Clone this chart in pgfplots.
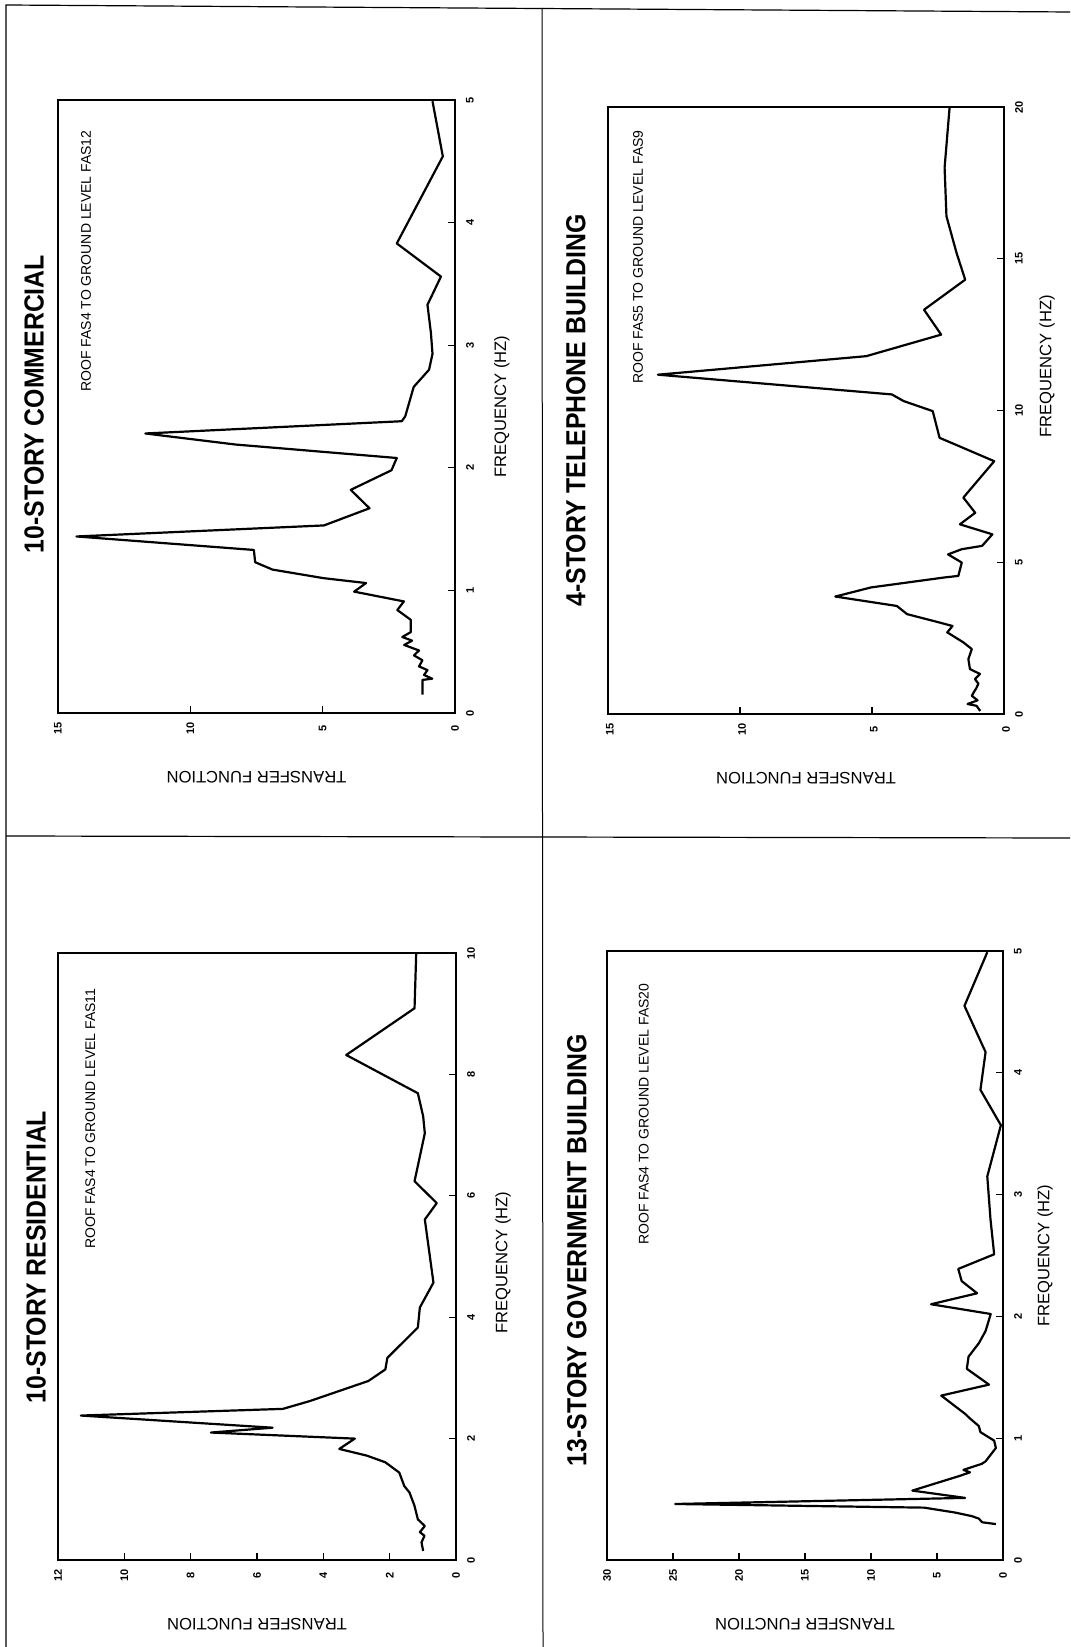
\documentclass[border=0pt]{standalone}
\usepackage{fontspec}
\setmainfont{Liberation Sans}
\newfontfamily\titlefam[FakeStretch=0.9]{Liberation Sans}
\usepackage{pgfplots}
\pgfplotsset{compat=1.18}
\usepackage{pgfplotstable}

\newcommand\tickfont{\fontsize{5.5}{6}\selectfont\bfseries}
\newcommand\labfont{\fontsize{8.3}{9}\selectfont}
\newcommand\titlefont{\titlefam\fontsize{13.8}{15}\selectfont\bfseries}
\newcommand\subfont{\fontsize{7}{8}\selectfont}

% frequency (Hz) vs transfer function
\pgfplotstableread{
f tf
0.15 1.23
0.27 1.23
0.28 0.86
0.31 1.17
0.35 1.04
0.38 1.36
0.43 1.23
0.47 1.55
0.51 1.36
0.555 1.92
0.59 1.62
0.62 1.99
0.66 1.67
0.76 1.67
0.84 2.18
0.91 1.93
0.99 3.81
1.06 3.36
1.10 4.97
1.17 6.90
1.23 7.55
1.33 7.60
1.44 14.30
1.53 4.95
1.67 3.23
1.82 3.94
1.98 2.40
2.08 2.20
2.19 8.30
2.28 11.70
2.38 2.01
2.42 1.88
2.66 1.56
2.80 0.98
2.93 0.85
3.10 0.91
3.33 1.04
3.56 0.53
3.83 2.20
4.54 0.46
4.99 0.85
}\commercial

\pgfplotstableread{
f tf
0.10 0.90
0.27 1.04
0.33 1.38
0.45 1.00
0.60 1.22
0.71 1.15
0.85 1.05
1.00 0.97
1.15 1.10
1.32 0.91
1.48 1.29
1.81 1.35
2.14 1.22
2.36 1.54
2.69 2.15
2.90 1.95
3.05 2.60
3.29 3.67
3.56 4.06
3.87 6.39
4.17 5.04
4.50 2.25
4.55 1.73
4.99 1.60
5.26 2.12
5.43 1.60
5.54 0.83
5.92 0.44
6.25 1.67
6.63 1.09
7.13 1.54
8.33 0.37
9.10 2.44
9.98 2.70
10.31 3.80
10.53 4.25
11.18 13.11
11.79 5.22
12.50 2.38
13.32 3.03
14.31 1.47
15.20 1.80
16.40 2.18
18.00 2.25
20.00 2.06
}\telephone

\pgfplotstableread{
f tf
0.15 0.99
0.29 1.04
0.40 0.95
0.46 1.09
0.56 0.94
0.67 1.15
0.89 1.25
1.11 1.40
1.22 1.56
1.44 1.71
1.61 2.13
1.72 2.69
1.83 3.52
2.00 3.05
2.10 7.39
2.18 5.53
2.38 11.31
2.49 5.22
2.62 4.40
2.95 2.64
3.14 2.13
3.33 2.07
3.83 1.15
4.16 1.09
4.57 0.68
5.61 0.94
5.88 0.58
6.24 1.25
7.03 0.94
7.31 0.99
7.69 1.15
8.32 3.31
9.09 1.25
9.99 1.20
}\residential

\pgfplotstableread{
f tf
0.295 0.54
0.31 1.58
0.34 1.83
0.36 2.35
0.39 3.64
0.43 5.97
0.46 24.83
0.51 2.87
0.57 6.87
0.69 3.30
0.72 2.50
0.74 3.00
0.79 1.60
0.81 1.32
0.92 0.54
0.98 0.67
1.05 1.71
1.10 1.83
1.16 2.48
1.20 2.87
1.35 4.68
1.44 1.06
1.57 2.74
1.67 2.61
1.78 1.83
1.88 1.32
2.02 0.93
2.10 5.45
2.19 1.96
2.29 3.13
2.39 3.39
2.51 0.67
2.80 0.95
3.15 1.19
3.57 0.16
3.86 1.71
4.17 1.32
4.55 2.92
4.99 1.19
}\government

\pgfplotsset{
  panel/.style={
    scale only axis, anchor=south west, x dir=reverse,
    enlargelimits=false,
    axis line style={line width=0.9pt},
    tick align=inside, xtick pos=bottom, ytick pos=right,
    major tick length=3.5pt,
    tick style={line width=0.6pt, black},
    /pgf/number format/assume math mode=true,
    ticklabel style={font=\tickfont, inner sep=0pt},
    xticklabel style={yshift=-7.5pt, rotate=90, anchor=center},
    yticklabel style={xshift=7.5pt, rotate=90, anchor=center},
    xlabel={TRANSFER FUNCTION}, ylabel={FREQUENCY (HZ)},
    every axis x label/.style={at={(axis description cs:0.5,-0.105)}, rotate=180, anchor=center, font=\labfont},
    every axis y label/.style={at={(axis description cs:1.118,0.5)}, rotate=90, anchor=center, font=\labfont},
    every axis title/.style={at={(axis description cs:-0.06,0.5)}, rotate=90, anchor=center, font=\titlefont},
  },
  curve/.style={black, line width=1.1pt, line join=round, mark=none},
}
\tikzset{subtitle/.style={rotate=90, anchor=east, inner sep=0pt, font=\subfont}}

\begin{document}
\begin{tikzpicture}
\useasboundingbox (0pt,0pt) rectangle (535pt,-823.5pt);
% page frame and dividers
\draw[line width=0.6pt] (3pt,-823.5pt) -- (3pt,-2.5pt) -- (535pt,-6pt);
\draw[line width=0.5pt] (271pt,-4pt) -- (271.5pt,-823.5pt);
\draw[line width=0.6pt] (3pt,-418pt) -- (535pt,-419pt);

\begin{axis}[panel, at={(29pt,-356.5pt)}, width=198.5pt, height=306.5pt,
    xmin=0, xmax=15, ymin=0, ymax=5,
    xtick={0,5,10,15}, ytick={0,1,...,5},
    title={10-STORY COMMERCIAL},
    title style={at={(axis description cs:-0.060,0.504)}}]
  \addplot[curve] table[x=tf, y=f] {\commercial};
  \node[subtitle] at (axis description cs:0.0705,0.951) {ROOF FAS4 TO GROUND LEVEL FAS12};
\end{axis}

\begin{axis}[panel, at={(304pt,-357pt)}, width=198pt, height=303.5pt,
    xmin=0, xmax=15, ymin=0, ymax=20,
    xtick={0,5,10,15}, ytick={0,5,...,20},
    xticklabel style={yshift=-1pt},
    title={4-STORY TELEPHONE BUILDING},
    title style={at={(axis description cs:-0.081,0.5)}},
    ylabel style={at={(axis description cs:1.109,0.573)}}]
  \addplot[curve] table[x=tf, y=f] {\telephone};
  \node[subtitle] at (axis description cs:0.076,0.962) {ROOF FAS5 TO GROUND LEVEL FAS9};
\end{axis}

\begin{axis}[panel, at={(29pt,-780pt)}, width=199pt, height=303.5pt,
    xmin=0, xmax=12, ymin=0, ymax=10,
    xtick={0,2,...,12}, ytick={0,2,...,10},
    title={10-STORY RESIDENTIAL},
    title style={at={(axis description cs:-0.055,0.499)}},
    ylabel style={at={(axis description cs:1.118,0.49)}}]
  \addplot[curve] table[x=tf, y=f] {\residential};
  \node[subtitle] at (axis description cs:0.081,0.942) {ROOF FAS4 TO GROUND LEVEL FAS11};
\end{axis}

\begin{axis}[panel, at={(303.5pt,-780pt)}, width=198pt, height=304.5pt,
    xmin=0, xmax=30, ymin=0, ymax=5,
    xtick={0,5,...,30}, ytick={0,1,...,5},
    title={13-STORY GOVERNMENT BUILDING},
    title style={at={(axis description cs:-0.076,0.509)}},
    ylabel style={at={(axis description cs:1.106,0.5)}}]
  \addplot[curve] table[x=tf, y=f] {\government};
  \node[subtitle] at (axis description cs:0.093,0.947) {ROOF FAS4 TO GROUND LEVEL FAS20};
\end{axis}
\end{tikzpicture}
\end{document}
